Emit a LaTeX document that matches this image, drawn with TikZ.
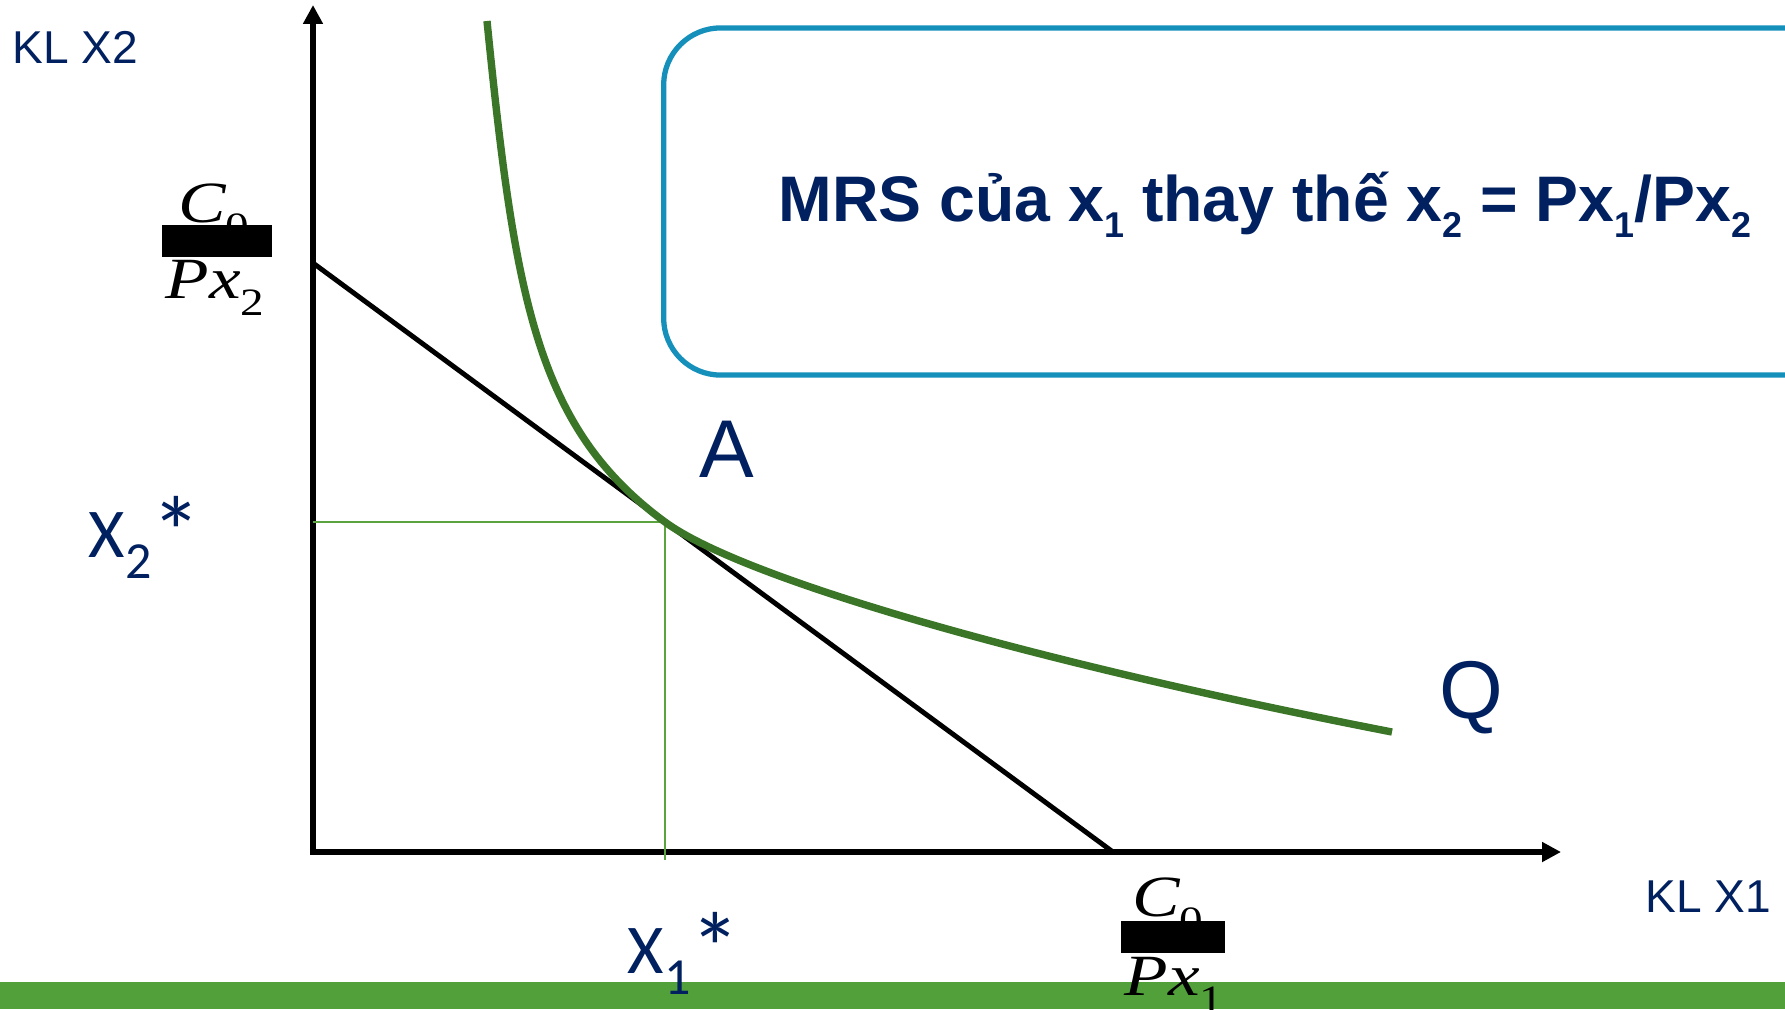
\documentclass[tikz,border=0pt]{standalone}
\usepackage{fontspec}
\usepackage{tikz}
\usetikzlibrary{arrows.meta}
\setmainfont{Liberation Sans}
\newfontfamily\calfont{Carlito}
\newfontfamily\timesfont{Liberation Serif}
\definecolor{navytext}{HTML}{002060}
\definecolor{curvegreen}{HTML}{3B7527}
\definecolor{guidegreen}{HTML}{5AA33F}
\definecolor{bargreen}{HTML}{52A03A}
\definecolor{boxblue}{HTML}{1590BB}
\newcommand{\TSub}[1]{\raisebox{-0.25em}{\fontsize{10.2}{11}\selectfont #1}}
\newcommand{\StarX}[1]{X\raisebox{-0.3em}{\fontsize{14.8}{16}\selectfont #1}\raisebox{-2.85pt}{\fontsize{28.5}{30}\selectfont *}}
\newcommand{\FracC}{\scalebox{1.22}[1]{{\itshape C}\raisebox{-0.3em}{\fontsize{11}{12}\selectfont 0}}}
\newcommand{\FracP}[1]{\scalebox{1.22}[1]{{\itshape Px}\raisebox{-0.3em}{\fontsize{11}{12}\selectfont #1}}}

\begin{document}
\begin{tikzpicture}[x=0.01cm,y=-0.01cm,
  axislabel/.style={font=\fontsize{13.1}{15}\selectfont,text=navytext,inner sep=0pt},
  pointlabel/.style={font=\fontsize{23.3}{26}\selectfont,text=navytext,inner sep=0pt},
  optlabel/.style={font=\calfont\fontsize{19.9}{22}\selectfont,text=navytext,inner sep=0pt},
  fraclabel/.style={font=\timesfont\fontsize{16.6}{18}\selectfont,inner sep=0pt},
  fracbar/.style={fill=black,inner sep=0pt,minimum height=0.32cm},
  mrsbox/.style={draw=boxblue,line width=1.5pt,rounded corners=0.57cm,minimum width=12.02cm,minimum height=3.47cm,font=\bfseries\fontsize{18.3}{21}\selectfont,text=navytext}]
  \useasboundingbox (0,0) rectangle (1785,1009);
  \fill[bargreen] (0,982) rectangle (1785,1009);

  % MRS box
  \node[mrsbox] (mrs) at (1265,201.5) {\raisebox{-0.195cm}[0pt][0pt]{MRS của x\TSub{1} thay thế x\TSub{2} = Px\TSub{1}/Px\TSub{2}}};

  % axes and budget line
  \coordinate (O) at (313,852);
  \coordinate (ytop) at (313,5);
  \coordinate (xend) at (1561,852);
  \coordinate (B2) at (313,263);
  \coordinate (B1) at (1113,852);
  \coordinate (A) at (665,522);
  \coordinate (qtop) at (487,21);
  \coordinate (qend) at (1392,732);
  \draw[line width=1.5pt,{Triangle[length=5.4pt,width=5.4pt]}-{Triangle[length=5.4pt,width=5.4pt]}] (ytop) -- (O) -- (xend);
  \draw[line width=1.4pt] (B2) -- (B1);
  \draw[guidegreen,line width=0.7pt] (O |- A) -- (A) -- (A |- 0,860);
  \draw[curvegreen,line width=2.1pt] (qtop) .. controls (515,300) and (537,428) .. (A)
    .. controls (744,580) and (1042,664) .. (qend);

  % labels
  \node[axislabel,anchor=base west] (kl2) at (12,63) {KL X2};
  \node[axislabel,anchor=base west] (kl1) at (1645,912) {KL X1};
  \node[pointlabel] (lblA) at (727,449) {A};
  \node[pointlabel,anchor=base] (lblQ) at (1471,718) {Q};
  \node[optlabel,anchor=base west] (x2s) at (88,557) {\StarX{2}};
  \node[optlabel,anchor=base west] (x1s) at (627,973) {\StarX{1}};

  % fractions C0/Px
  \node[fraclabel,anchor=base] (c2) at (214,222) {\FracC};
  \node[fracbar,minimum width=1.10cm] (bar2) at (217,241) {};
  \node[fraclabel,anchor=base] (p2) at (215,298) {\FracP{2}};
  \node[fraclabel,anchor=base] (c1) at (1168,916) {\FracC};
  \node[fracbar,minimum width=1.03cm] (bar1) at (1173,937) {};
  \node[fraclabel,anchor=base] (p1) at (1174,995) {\FracP{1}};
\end{tikzpicture}
\end{document}
